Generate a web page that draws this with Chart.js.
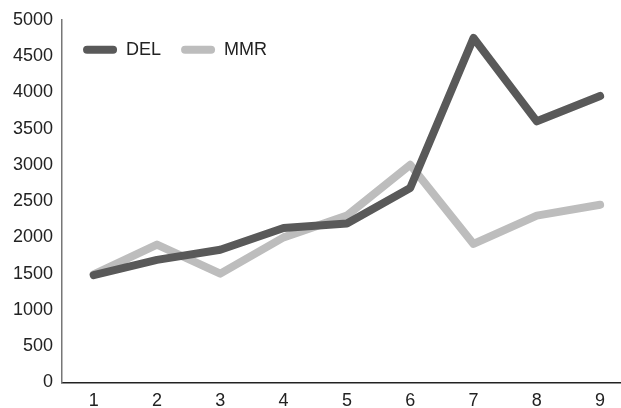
<!DOCTYPE html>
<html>
<head>
<meta charset="utf-8">
<style>
html,body{margin:0;padding:0;background:#fff;}
#wrap{width:621px;height:408px;position:relative;}
</style>
<script src="https://cdn.jsdelivr.net/npm/chart.js@4/dist/chart.umd.min.js"></script>
</head>
<body>
<div id="wrap"><canvas id="c" width="621" height="408"></canvas></div>
<script>
const categories = [1, 2, 3, 4, 5, 6, 7, 8, 9];
const delValues = [1480, 1690, 1830, 2130, 2190, 2680, 4750, 3600, 3950];
const mmrValues = [1490, 1900, 1500, 2000, 2300, 3000, 1910, 2300, 2450];
const yTicks = [0, 500, 1000, 1500, 2000, 2500, 3000, 3500, 4000, 4500, 5000];

const FONT = "'Liberation Sans', Arial, sans-serif";

// Legend drawn by Chart.js, placed inside the plot area (top-left)
const legendInside = {
  id: 'legendInside',
  afterInit(chart) {
    const lg = chart.legend;
    if (!lg) return;
    const fit = lg.fit.bind(lg);
    lg.fit = function () { fit(); this.height = 0; };
  },
  afterLayout(chart) {
    const lg = chart.legend;
    if (!lg) return;
    lg.left = chart.chartArea.left + 1;
    lg.right = chart.chartArea.right;
    lg.top = chart.chartArea.top + 1;
    lg.height = 60;
    lg.bottom = lg.top + 60;
  }
};

new Chart(document.getElementById('c'), {
  type: 'line',
  data: {
    datasets: [
      { label: 'DEL', data: categories.map((c, i) => ({ x: c, y: delValues[i] })),
        borderColor: '#595959', backgroundColor: '#595959', borderWidth: 8,
        pointRadius: 0, borderCapStyle: 'round', borderJoinStyle: 'round', tension: 0 },
      { label: 'MMR', data: categories.map((c, i) => ({ x: c, y: mmrValues[i] })),
        borderColor: '#bdbdbd', backgroundColor: '#bdbdbd', borderWidth: 8,
        pointRadius: 0, borderCapStyle: 'round', borderJoinStyle: 'round', tension: 0 }
    ]
  },
  plugins: [legendInside],
  options: {
    responsive: false,
    animation: false,
    layout: { padding: { top: 14, left: 4, right: 0, bottom: -12 } },
    plugins: {
      tooltip: { enabled: false },
      legend: {
        position: 'top',
        align: 'start',
        labels: {
          font: { family: FONT, size: 18 },
          color: '#222',
          boxWidth: 34,
          boxHeight: 8,
          useBorderRadius: true,
          borderRadius: 4,
          padding: 20,
          generateLabels: (chart) =>
            Chart.defaults.plugins.legend.labels.generateLabels(chart)
              .map(l => Object.assign({}, l, { lineWidth: 0 }))
        }
      }
    },
    scales: {
      x: {
        type: 'linear',
        min: 0.5,
        max: 9.33,
        grid: { display: false, drawTicks: false },
        border: { display: true, color: '#222', width: 1.5 },
        afterBuildTicks: (s) => { s.ticks = categories.map(v => ({ value: v })); },
        ticks: { font: { family: FONT, size: 18 }, color: '#222', padding: 8,
          autoSkip: false, maxRotation: 0, callback: (v) => String(v) }
      },
      y: {
        min: 0,
        max: 5000,
        grid: { display: false, drawTicks: false },
        border: { display: true, color: '#777', width: 1.5 },
        afterBuildTicks: (s) => { s.ticks = yTicks.map(v => ({ value: v })); },
        ticks: { font: { family: FONT, size: 18 }, color: '#222', padding: 9,
          callback: (v) => String(v) }
      }
    }
  }
});
</script>
</body>
</html>
